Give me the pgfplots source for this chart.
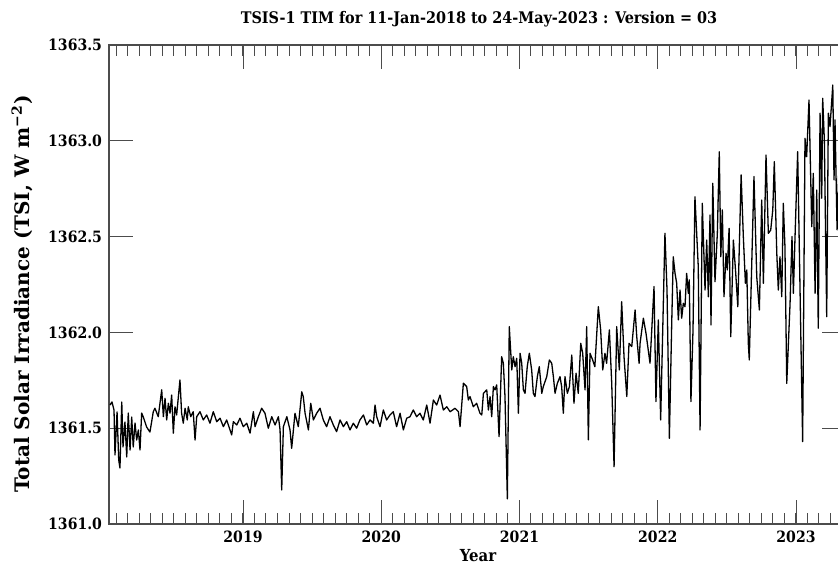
\documentclass[border=0pt]{standalone}
\usepackage{fontspec}
\setmainfont{DejaVu Serif Condensed}
\newfontfamily\ylabfont{DejaVu Serif}
\usepackage{pgfplots}
\pgfplotsset{compat=1.18}
\begin{document}
\begin{tikzpicture}
\begin{axis}[
  scale only axis,
  width=368.5pt, height=239.5pt,
  xmin=2018.0307, xmax=2023.3617,
  ymin=1361, ymax=1363.5,
  xtick={2019,2020,2021,2022,2023},
  minor xtick={2018.08333,2018.16667,...,2023.35},
  ytick={1361,1361.5,...,1363.5},
  minor y tick num=4,
  tick align=inside,
  major tick length=12pt,
  minor tick length=5.5pt,
  axis line style={black!70, line width=0.7pt},
  every tick/.style={black!70, line width=0.5pt},
  /pgf/number format/assume math mode=true,
  tick label style={font=\bfseries\fontsize{7.8}{9}\selectfont},
  xticklabel={\pgfmathprintnumber[fixed,precision=0,1000 sep={}]{\tick}},
  yticklabel={\pgfmathprintnumber[fixed,fixed zerofill,precision=1,1000 sep={}]{\tick}},
]
\addplot[black, line width=0.65pt, mark=none, line join=round] table {
2018.038 1361.621
2018.052 1361.637
2018.067 1361.595
2018.074 1361.360
2018.089 1361.585
2018.101 1361.334
2018.110 1361.292
2018.123 1361.637
2018.132 1361.402
2018.146 1361.532
2018.159 1361.350
2018.170 1361.579
2018.183 1361.386
2018.195 1361.558
2018.206 1361.402
2018.219 1361.527
2018.231 1361.438
2018.243 1361.491
2018.255 1361.386
2018.267 1361.579
2018.279 1361.558
2018.303 1361.506
2018.327 1361.480
2018.351 1361.586
2018.363 1361.604
2018.387 1361.560
2018.412 1361.700
2018.424 1361.560
2018.436 1361.656
2018.448 1361.543
2018.460 1361.630
2018.472 1361.578
2018.484 1361.673
2018.496 1361.474
2018.508 1361.612
2018.520 1361.569
2018.544 1361.752
2018.556 1361.578
2018.568 1361.526
2018.581 1361.604
2018.597 1361.543
2018.604 1361.612
2018.622 1361.560
2018.640 1361.586
2018.653 1361.438
2018.665 1361.560
2018.689 1361.586
2018.713 1361.543
2018.737 1361.569
2018.761 1361.526
2018.785 1361.586
2018.810 1361.534
2018.834 1361.552
2018.858 1361.508
2018.882 1361.543
2018.918 1361.465
2018.930 1361.534
2018.955 1361.517
2018.978 1361.552
2019.002 1361.508
2019.027 1361.526
2019.051 1361.474
2019.075 1361.586
2019.087 1361.508
2019.111 1361.560
2019.135 1361.604
2019.159 1361.578
2019.183 1361.500
2019.208 1361.560
2019.232 1361.517
2019.256 1361.560
2019.268 1361.491
2019.280 1361.178
2019.292 1361.508
2019.317 1361.560
2019.340 1361.491
2019.352 1361.395
2019.376 1361.578
2019.400 1361.508
2019.425 1361.690
2019.436 1361.664
2019.449 1361.578
2019.473 1361.491
2019.490 1361.630
2019.509 1361.543
2019.533 1361.578
2019.557 1361.604
2019.581 1361.543
2019.605 1361.508
2019.629 1361.560
2019.653 1361.517
2019.677 1361.482
2019.702 1361.543
2019.726 1361.508
2019.750 1361.534
2019.774 1361.491
2019.798 1361.526
2019.822 1361.500
2019.846 1361.543
2019.871 1361.569
2019.895 1361.517
2019.919 1361.543
2019.943 1361.526
2019.955 1361.621
2019.967 1361.560
2019.991 1361.508
2020.015 1361.595
2020.039 1361.543
2020.063 1361.569
2020.087 1361.586
2020.111 1361.508
2020.136 1361.578
2020.160 1361.491
2020.184 1361.552
2020.208 1361.560
2020.232 1361.595
2020.256 1361.560
2020.280 1361.578
2020.304 1361.543
2020.329 1361.621
2020.353 1361.526
2020.377 1361.647
2020.401 1361.621
2020.425 1361.673
2020.449 1361.595
2020.474 1361.612
2020.498 1361.586
2020.534 1361.604
2020.558 1361.586
2020.570 1361.508
2020.594 1361.735
2020.618 1361.717
2020.630 1361.647
2020.642 1361.665
2020.666 1361.612
2020.690 1361.630
2020.714 1361.578
2020.727 1361.569
2020.739 1361.682
2020.763 1361.700
2020.775 1361.595
2020.787 1361.665
2020.799 1361.560
2020.811 1361.717
2020.823 1361.700
2020.835 1361.726
2020.852 1361.456
2020.871 1361.873
2020.883 1361.839
2020.895 1361.665
2020.912 1361.131
2020.926 1362.030
2020.944 1361.804
2020.955 1361.873
2020.968 1361.821
2020.980 1361.865
2020.992 1361.578
2021.004 1361.891
2021.016 1361.839
2021.028 1361.700
2021.040 1361.682
2021.056 1361.821
2021.071 1361.891
2021.088 1361.804
2021.100 1361.682
2021.112 1361.665
2021.129 1361.769
2021.143 1361.821
2021.161 1361.682
2021.172 1361.717
2021.197 1361.769
2021.216 1361.856
2021.233 1361.839
2021.245 1361.769
2021.257 1361.682
2021.274 1361.735
2021.293 1361.769
2021.305 1361.717
2021.317 1361.578
2021.329 1361.769
2021.346 1361.682
2021.361 1361.717
2021.378 1361.882
2021.394 1361.630
2021.409 1361.787
2021.425 1361.682
2021.443 1361.943
2021.457 1361.891
2021.474 1361.700
2021.486 1362.030
2021.498 1361.439
2021.510 1361.891
2021.529 1361.856
2021.545 1361.821
2021.570 1362.134
2021.587 1362.013
2021.602 1361.804
2021.618 1361.891
2021.630 1361.839
2021.650 1362.013
2021.667 1361.735
2021.684 1361.299
2021.703 1362.030
2021.722 1361.804
2021.739 1362.160
2021.756 1361.873
2021.776 1361.665
2021.792 1361.943
2021.812 1361.926
2021.836 1362.117
2021.848 1361.978
2021.865 1361.839
2021.872 1361.943
2021.896 1362.074
2021.915 1361.995
2021.944 1361.839
2021.973 1362.239
2021.987 1361.639
2022.004 1362.065
2022.021 1361.543
2022.052 1362.517
2022.067 1362.221
2022.084 1361.447
2022.101 1362.048
2022.112 1362.395
2022.125 1362.308
2022.137 1362.256
2022.149 1362.065
2022.161 1362.221
2022.173 1362.074
2022.185 1362.152
2022.197 1362.134
2022.209 1362.308
2022.221 1362.204
2022.228 1362.274
2022.240 1361.639
2022.255 1362.013
2022.269 1362.708
2022.293 1362.343
2022.306 1361.491
2022.322 1362.674
2022.342 1362.221
2022.354 1362.482
2022.366 1362.186
2022.378 1362.613
2022.385 1362.039
2022.398 1362.778
2022.414 1362.265
2022.431 1362.517
2022.445 1362.943
2022.456 1362.395
2022.467 1362.639
2022.479 1362.186
2022.494 1362.413
2022.503 1362.326
2022.516 1362.543
2022.528 1361.978
2022.547 1362.482
2022.564 1362.308
2022.579 1362.134
2022.603 1362.822
2022.619 1362.500
2022.634 1362.256
2022.644 1362.326
2022.655 1361.943
2022.662 1361.856
2022.696 1362.813
2022.716 1362.291
2022.735 1362.117
2022.752 1362.691
2022.764 1362.256
2022.783 1362.926
2022.800 1362.517
2022.817 1362.534
2022.832 1362.639
2022.843 1362.891
2022.861 1362.413
2022.872 1362.221
2022.884 1362.395
2022.897 1362.186
2022.908 1362.674
2022.920 1362.448
2022.933 1361.734
2022.957 1362.152
2022.971 1362.500
2022.981 1362.204
2022.993 1362.500
2023.012 1362.943
2023.048 1361.430
2023.065 1363.013
2023.077 1362.917
2023.094 1363.213
2023.114 1362.552
2023.125 1362.830
2023.138 1362.204
2023.150 1362.743
2023.161 1362.022
2023.174 1363.144
2023.186 1362.700
2023.193 1363.222
2023.205 1363.004
2023.222 1362.082
2023.234 1363.144
2023.246 1363.074
2023.266 1363.291
2023.275 1362.796
2023.282 1363.109
2023.297 1362.535
2023.318 1363.056
2023.340 1362.430
2023.362 1362.796
};
\end{axis}
\node[anchor=base, font=\bfseries\fontsize{8}{10}\selectfont] at (185pt,250pt)
  {TSIS-1 TIM for 11-Jan-2018 to 24-May-2023 : Version = 03};
\node[anchor=center, font=\bfseries\fontsize{8.3}{10}\selectfont] at (184.5pt,-16pt) {Year};
\node[anchor=center, rotate=90, font=\ylabfont\bfseries\fontsize{10}{12}\selectfont] at (-43.5pt,115pt)
  {Total Solar Irradiance (TSI, W m\textsuperscript{−2})};
\pgfresetboundingbox
\path[use as bounding box] (-54.5pt,-20.5pt) rectangle (364.5pt,262pt);
\end{tikzpicture}
\end{document}
